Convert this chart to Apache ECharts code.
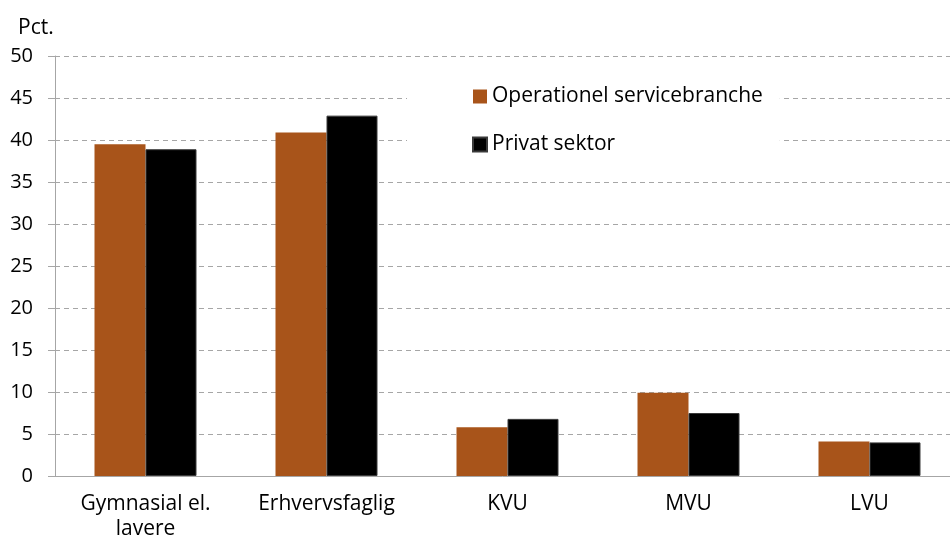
<!DOCTYPE html>
<html>
<head>
<meta charset="utf-8">
<script src="https://cdn.jsdelivr.net/npm/echarts@6/dist/echarts.min.js"></script>
<style>
  html, body { margin: 0; padding: 0; background: #fff; }
  #chart { width: 950px; height: 545px; }
</style>
</head>
<body>
<div id="chart"></div>
<script>
var categories = ["Gymnasial el.\nlavere", "Erhvervsfaglig", "KVU", "MVU", "LVU"];
var servicebranche = [39.5, 40.9, 5.8, 9.9, 4.1];
var privatSektor = [38.9, 42.9, 6.8, 7.5, 4.0];
var seriesNames = ["Operationel servicebranche", "Privat sektor"];

var font = "Open Sans";
var gray = "#a6a6a6";

var chart = echarts.init(document.getElementById("chart"));
chart.setOption({
  animation: false,
  textStyle: { fontFamily: font },
  title: {
    text: "Pct.",
    left: 13,
    top: 13,
    textStyle: { fontFamily: font, fontSize: 21, fontWeight: "normal", color: "#000" }
  },
  legend: {
    orient: "vertical",
    left: 407,
    top: 80,
    padding: [6, 17, 6, 65],
    backgroundColor: "#fff",
    itemWidth: 14,
    itemHeight: 14,
    itemGap: 27,
    icon: "rect",
    textStyle: { fontFamily: font, fontSize: 21, color: "#000", lineHeight: 20 },
    data: seriesNames
  },
  grid: { left: 55, top: 56, width: 905, height: 420, outerBoundsMode: "none" },
  xAxis: {
    type: "category",
    data: categories,
    axisLine: { lineStyle: { color: gray } },
    axisTick: { length: 7, lineStyle: { color: gray } },
    axisLabel: { color: "#000", fontSize: 21, margin: 16, lineHeight: 25, fontFamily: font }
  },
  yAxis: {
    type: "value",
    min: 0,
    max: 50,
    interval: 5,
    axisLine: { show: true, lineStyle: { color: gray } },
    axisTick: { show: true, length: 7, lineStyle: { color: gray } },
    axisLabel: { color: "#000", fontSize: 20, margin: 22, fontFamily: font },
    splitLine: { lineStyle: { color: gray, type: [5, 4] } }
  },
  series: [
    {
      name: seriesNames[0],
      type: "bar",
      data: servicebranche,
      barWidth: 51,
      barGap: "0%",
      itemStyle: { color: "#a8541a" }
    },
    {
      name: seriesNames[1],
      type: "bar",
      data: privatSektor,
      barWidth: 51,
      itemStyle: { color: "#000", borderColor: "#3a3a3a", borderWidth: 1 }
    }
  ]
});
</script>
</body>
</html>
